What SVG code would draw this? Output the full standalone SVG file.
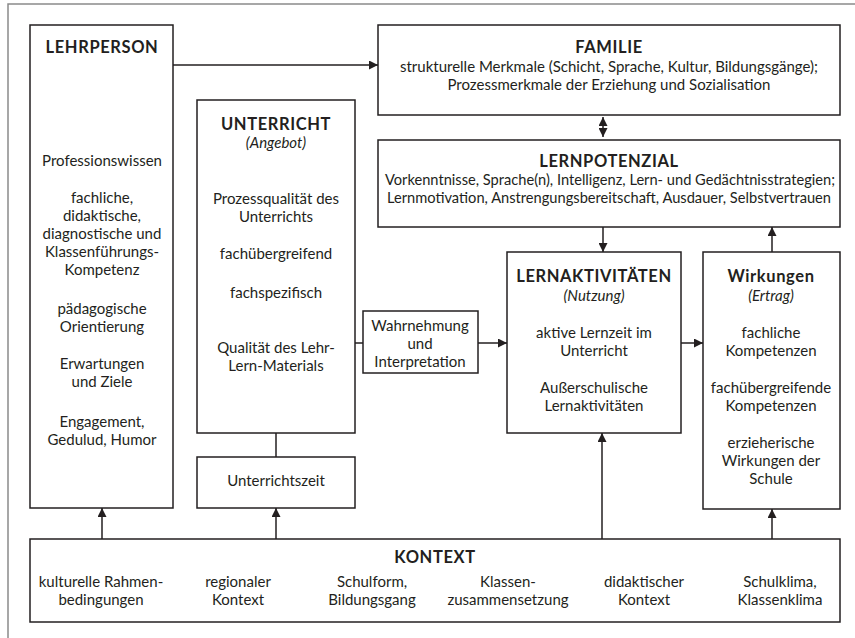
<svg xmlns="http://www.w3.org/2000/svg" width="855" height="638" viewBox="0 0 855 638">
  <style>
    .box { fill: #ffffff; stroke: #231f20; stroke-width: 1.5; }
    .frame { fill: none; stroke: #8a8a8a; stroke-width: 1.5; }
    .link { fill: none; stroke: #231f20; stroke-width: 1.5; }
    text { font-family: Lato, "Open Sans", "Liberation Sans", sans-serif; font-size: 15px; fill: #231f20; text-anchor: middle; }
    .title { font-weight: bold; font-size: 16.5px; letter-spacing: 0.6px; }
    .sub { font-style: italic; }
  </style>
  <defs>
    <marker id="arrow" viewBox="0 0 9 9" refX="9" refY="4.5" markerWidth="9" markerHeight="9" markerUnits="userSpaceOnUse" orient="auto-start-reverse">
      <path d="M0,0 L9,4.5 L0,9 z" fill="#231f20"/>
    </marker>
  </defs>

  <rect width="855" height="638" fill="#ffffff"/>
  <!-- outer frame (top and left edges) -->
  <path class="frame" d="M8,638 V4 H855"/>

  <g id="lehrperson">
    <rect class="box" x="30" y="25" width="143" height="483"/>
    <text class="title" x="102" y="53">LEHRPERSON</text>
    <text x="102" y="166">Professionswissen</text>
    <text x="102" y="203">fachliche,</text>
    <text x="102" y="221">didaktische,</text>
    <text x="102" y="239">diagnostische und</text>
    <text x="102" y="257">Klassenführungs-</text>
    <text x="102" y="275">Kompetenz</text>
    <text x="102" y="314">pädagogische</text>
    <text x="102" y="332">Orientierung</text>
    <text x="102" y="369">Erwartungen</text>
    <text x="102" y="387">und Ziele</text>
    <text x="102" y="427">Engagement,</text>
    <text x="102" y="445">Gedulud, Humor</text>
  </g>

  <g id="unterricht">
    <rect class="box" x="197" y="100" width="158" height="333"/>
    <text class="title" x="276" y="130">UNTERRICHT</text>
    <text class="sub" x="276" y="148">(Angebot)</text>
    <text x="276" y="204">Prozessqualität des</text>
    <text x="276" y="222">Unterrichts</text>
    <text x="276" y="259">fachübergreifend</text>
    <text x="276" y="298">fachspezifisch</text>
    <text x="276" y="353">Qualität des Lehr-</text>
    <text x="276" y="371">Lern-Materials</text>
  </g>

  <g id="unterrichtszeit">
    <rect class="box" x="197" y="457" width="158" height="51"/>
    <text x="276" y="486">Unterrichtszeit</text>
  </g>

  <g id="familie">
    <rect class="box" x="378" y="25" width="462" height="90"/>
    <text class="title" x="609" y="53">FAMILIE</text>
    <text x="609" y="72">strukturelle Merkmale (Schicht, Sprache, Kultur, Bildungsgänge);</text>
    <text x="609" y="90">Prozessmerkmale der Erziehung und Sozialisation</text>
  </g>

  <g id="lernpotenzial">
    <rect class="box" x="378" y="140" width="462" height="87"/>
    <text class="title" x="609" y="167">LERNPOTENZIAL</text>
    <text x="610" y="185" textLength="450" lengthAdjust="spacingAndGlyphs">Vorkenntnisse, Sprache(n), Intelligenz, Lern- und Gedächtnisstrategien;</text>
    <text x="609" y="203" textLength="444" lengthAdjust="spacingAndGlyphs">Lernmotivation, Anstrengungsbereitschaft, Ausdauer, Selbstvertrauen</text>
  </g>

  <g id="wahrnehmung">
    <rect class="box" x="363" y="311" width="115" height="62"/>
    <text x="420" y="331">Wahrnehmung</text>
    <text x="420" y="349">und</text>
    <text x="420" y="367">Interpretation</text>
  </g>

  <g id="lernaktivitaeten">
    <rect class="box" x="507" y="252" width="174" height="181"/>
    <text class="title" x="594" y="282">LERNAKTIVITÄTEN</text>
    <text class="sub" x="594" y="301">(Nutzung)</text>
    <text x="594" y="338">aktive Lernzeit im</text>
    <text x="594" y="356">Unterricht</text>
    <text x="594" y="393">Außerschulische</text>
    <text x="594" y="411">Lernaktivitäten</text>
  </g>

  <g id="wirkungen">
    <rect class="box" x="703" y="252" width="137" height="257"/>
    <text class="title" x="771" y="282">Wirkungen</text>
    <text class="sub" x="771" y="301">(Ertrag)</text>
    <text x="771" y="338">fachliche</text>
    <text x="771" y="356">Kompetenzen</text>
    <text x="771" y="393">fachübergreifende</text>
    <text x="771" y="411">Kompetenzen</text>
    <text x="771" y="448">erzieherische</text>
    <text x="771" y="466">Wirkungen der</text>
    <text x="771" y="484">Schule</text>
  </g>

  <g id="kontext">
    <rect class="box" x="30" y="539" width="810" height="83"/>
    <text class="title" x="435" y="563">KONTEXT</text>
    <text x="101" y="587">kulturelle Rahmen-</text>
    <text x="101" y="605">bedingungen</text>
    <text x="238" y="587">regionaler</text>
    <text x="238" y="605">Kontext</text>
    <text x="372" y="587">Schulform,</text>
    <text x="372" y="605">Bildungsgang</text>
    <text x="508" y="587">Klassen-</text>
    <text x="508" y="605">zusammensetzung</text>
    <text x="644" y="587">didaktischer</text>
    <text x="644" y="605">Kontext</text>
    <text x="780" y="587">Schulklima,</text>
    <text x="780" y="605">Klassenklima</text>
  </g>

  <g id="connectors">
    <path class="link" d="M173,65 H378" marker-end="url(#arrow)"/>
    <path class="link" d="M603,117 V137" marker-start="url(#arrow)" marker-end="url(#arrow)"/>
    <path class="link" d="M603,227 V252" marker-end="url(#arrow)"/>
    <path class="link" d="M772,252 V227" marker-end="url(#arrow)"/>
    <path class="link" d="M355,343 H363"/>
    <path class="link" d="M478,343 H507" marker-end="url(#arrow)"/>
    <path class="link" d="M681,343 H703" marker-end="url(#arrow)"/>
    <path class="link" d="M276,433 V457"/>
    <path class="link" d="M102,539 V508" marker-end="url(#arrow)"/>
    <path class="link" d="M276,539 V508" marker-end="url(#arrow)"/>
    <path class="link" d="M602,539 V433" marker-end="url(#arrow)"/>
    <path class="link" d="M772,539 V509" marker-end="url(#arrow)"/>
  </g>
</svg>
